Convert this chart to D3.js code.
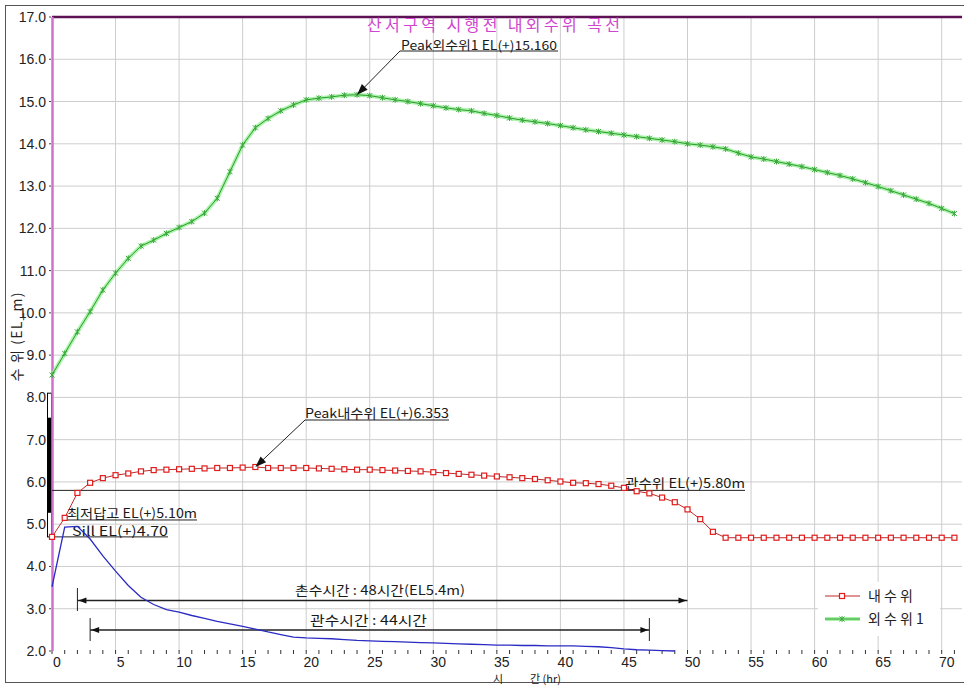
<!DOCTYPE html>
<html>
<head>
<meta charset="utf-8">
<script src="https://cdn.jsdelivr.net/npm/d3@7"></script>
<style>
  html, body { margin: 0; padding: 0; background: #fff; }
  svg { display: block; }
  text { font-family: "Noto Sans CJK KR", "Liberation Sans", sans-serif; }
</style>
</head>
<body>
<svg id="chart" width="964" height="686"></svg>
<script>
// Hourly water levels (EL m), index = hour
const innerLevel = [
  4.70, 5.15, 5.74, 5.98, 6.09, 6.16, 6.20, 6.25, 6.28, 6.29,
  6.30, 6.31, 6.32, 6.33, 6.33, 6.34, 6.353, 6.33, 6.33, 6.33,
  6.33, 6.32, 6.31, 6.30, 6.29, 6.29, 6.28, 6.27, 6.26, 6.25,
  6.23, 6.21, 6.19, 6.17, 6.15, 6.13, 6.11, 6.09, 6.07, 6.04,
  6.01, 5.98, 5.97, 5.95, 5.91, 5.86, 5.78, 5.73, 5.63, 5.52,
  5.35, 5.12, 4.82, 4.68, 4.68, 4.68, 4.68, 4.68, 4.68, 4.68,
  4.68, 4.68, 4.68, 4.68, 4.68, 4.68, 4.68, 4.68, 4.68, 4.68,
  4.68, 4.68
];
const outerLevel = [
  8.53, 9.04, 9.55, 10.03, 10.54, 10.94, 11.29, 11.58, 11.72, 11.88,
  12.02, 12.16, 12.36, 12.71, 13.34, 13.97, 14.38, 14.60, 14.78, 14.92,
  15.04, 15.08, 15.11, 15.15, 15.16, 15.14, 15.09, 15.04, 15.00, 14.95,
  14.90, 14.85, 14.81, 14.78, 14.72, 14.67, 14.61, 14.56, 14.52, 14.48,
  14.43, 14.38, 14.33, 14.29, 14.25, 14.21, 14.17, 14.13, 14.09, 14.05,
  14.00, 13.97, 13.93, 13.88, 13.78, 13.69, 13.64, 13.58, 13.52, 13.46,
  13.39, 13.32, 13.25, 13.17, 13.08, 12.99, 12.89, 12.79, 12.69, 12.59,
  12.47, 12.35
];
const drainLevel = [
  3.52, 4.93, 4.95, 4.65, 4.25, 3.89, 3.55, 3.27, 3.10, 2.98,
  2.92, 2.84, 2.77, 2.70, 2.64, 2.58, 2.52, 2.45, 2.39, 2.33,
  2.31, 2.30, 2.29, 2.27, 2.25, 2.24, 2.23, 2.22, 2.21, 2.20,
  2.19, 2.18, 2.17, 2.16, 2.15, 2.14, 2.14, 2.13, 2.13, 2.12,
  2.12, 2.12, 2.11, 2.10, 2.08, 2.05, 2.03, 2.02, 2.01, 2.00
];
const seriesNames = ["내 수 위", "외 수 위 1"];
const yTickValues = [2, 3, 4, 5, 6, 7, 8, 9, 10, 11, 12, 13, 14, 15, 16, 17];
const xTickValues = [0, 5, 10, 15, 20, 25, 30, 35, 40, 45, 50, 55, 60, 65, 70];

// reference levels and durations
const peakInner = { hour: 16, value: 6.353 };
const peakOuter = { hour: 24, value: 15.160 };
const irrigationLevel = 5.80;
const paddyLevel = 5.10;
const sillLevel = 4.70;
const floodSpan = [2, 50];
const irrigationSpan = [3, 47];
const gateBar = { top: 8.1, fillTop: 7.52, fillBottom: 5.27, bottom: 4.70 };

const svg = d3.select("#chart");
const x = d3.scaleLinear().domain([0, 70]).range([52, 941.7]);
const y = d3.scaleLinear().domain([2, 17]).range([651, 17]);
const X0 = x(0), XR = 962, YT = y(17), YB = y(2);

// outer frame
svg.append("rect").attr("x", 5.5).attr("y", 5.5).attr("width", 975).attr("height", 677)
  .attr("fill", "#fff").attr("stroke", "#555").attr("stroke-width", 1);

// grid
svg.append("g").selectAll("line").data(xTickValues.filter(d => d > 0)).join("line")
  .attr("x1", d => x(d)).attr("x2", d => x(d)).attr("y1", YT).attr("y2", YB)
  .attr("stroke", "#cdcdcd").attr("stroke-width", 1);
svg.append("g").selectAll("line").data(yTickValues.filter(d => d > 2 && d < 17)).join("line")
  .attr("x1", X0).attr("x2", XR).attr("y1", d => y(d)).attr("y2", d => y(d))
  .attr("stroke", "#cdcdcd").attr("stroke-width", 1);

// hourly minor ticks on the time axis
svg.append("g").selectAll("line").data(innerLevel.map((_, i) => i)).join("line")
  .attr("x1", d => x(d)).attr("x2", d => x(d)).attr("y1", YB - 1).attr("y2", YB + 3)
  .attr("stroke", "#333").attr("stroke-width", 1);

// tick labels
svg.append("g").selectAll("text").data(xTickValues).join("text")
  .attr("x", d => x(d) + 5).attr("y", 667).attr("text-anchor", "middle")
  .attr("font-size", 14).attr("fill", "#222")
  .style("font-family", "'Liberation Sans', sans-serif")
  .text(d => d);
svg.append("g").selectAll("text").data(yTickValues).join("text")
  .attr("x", 46).attr("y", d => y(d) + 5).attr("text-anchor", "end")
  .attr("font-size", 14).attr("fill", "#222")
  .style("font-family", "'Liberation Sans', sans-serif")
  .text(d => d.toFixed(1));
svg.append("g").selectAll("line").data(yTickValues).join("line")
  .attr("x1", 49).attr("x2", 51).attr("y1", d => y(d)).attr("y2", d => y(d))
  .attr("stroke", "#444");

// axis titles
svg.append("text").attr("transform", "translate(22,337) rotate(-90)")
  .attr("text-anchor", "middle").attr("font-size", 14).attr("fill", "#222")
  .attr("textLength", 89).attr("lengthAdjust", "spacing")
  .text("수 위 (EL_m)");
svg.append("text").attr("x", 498).attr("y", 682.5).attr("text-anchor", "middle")
  .attr("font-size", 11).attr("fill", "#222").text("시");
svg.append("text").attr("x", 530).attr("y", 682.5)
  .attr("font-size", 11).attr("fill", "#222").text("간 (hr)");

// gate bar beside the level axis
svg.append("rect").attr("x", 47.5).attr("y", y(gateBar.top)).attr("width", 4)
  .attr("height", y(gateBar.bottom) - y(gateBar.top))
  .attr("fill", "#fff").attr("stroke", "#000").attr("stroke-width", 1);
svg.append("rect").attr("x", 47.5).attr("y", y(gateBar.fillTop)).attr("width", 4)
  .attr("height", y(gateBar.fillBottom) - y(gateBar.fillTop)).attr("fill", "#000");

// frame lines of the plot
svg.append("line").attr("x1", X0).attr("x2", XR).attr("y1", YT).attr("y2", YT)
  .attr("stroke", "#5e1256").attr("stroke-width", 2.5);
svg.append("line").attr("x1", X0 + 0.5).attr("x2", X0 + 0.5).attr("y1", YT).attr("y2", YB)
  .attr("stroke", "#d070d0").attr("stroke-width", 2.5);

// title
svg.append("text").attr("x", 367).attr("y", 31).attr("font-size", 16).attr("fill", "#d044d0")
  .attr("textLength", 253).attr("lengthAdjust", "spacing")
  .text("산서구역 시행전 내외수위 곡선");

function arrowHead(g, fx, fy, tx, ty, len, half) {
  const a = Math.atan2(ty - fy, tx - fx);
  const bx = tx - len * Math.cos(a), by = ty - len * Math.sin(a);
  const px = -Math.sin(a) * half, py = Math.cos(a) * half;
  g.append("path")
    .attr("d", `M${tx},${ty}L${bx + px},${by + py}L${bx - px},${by - py}Z`)
    .attr("fill", "#111");
}

const ann = svg.append("g");
function label(txt, x0, base, len, fs) {
  ann.append("text").attr("x", x0).attr("y", base).attr("font-size", fs || 13).attr("fill", "#1a1a1a")
    .attr("textLength", len).attr("lengthAdjust", "spacingAndGlyphs").text(txt);
}
function hline(x1, x2, yy, w) {
  ann.append("line").attr("x1", x1).attr("x2", x2).attr("y1", yy).attr("y2", yy)
    .attr("stroke", "#222").attr("stroke-width", w || 1);
}
function vline(xx, y1, y2) {
  ann.append("line").attr("x1", xx).attr("x2", xx).attr("y1", y1).attr("y2", y2)
    .attr("stroke", "#222").attr("stroke-width", 1);
}

// level lines
hline(X0, 745, y(irrigationLevel));
label("관수위 EL(+)5.80m", 625, 488, 120);
hline(65, 197, y(paddyLevel));
label("최저답고 EL(+)5.10m", 67, 518, 130);
hline(X0, 168, y(sillLevel));
label("Sill EL(+)4.70", 72, 535.5, 96);

// duration arrows
const fy = 600.5, iy = 630;
hline(x(floodSpan[0]), x(floodSpan[1]), fy, 1.5);
vline(x(floodSpan[0]), 588, 611);
arrowHead(ann, x(floodSpan[0]) + 20, fy, x(floodSpan[0]) + 1, fy, 8, 3);
arrowHead(ann, x(floodSpan[1]) - 20, fy, x(floodSpan[1]) - 1, fy, 8, 3);
label("촌수시간 : 48시간(EL5.4m)", 295, 595, 170);

hline(x(irrigationSpan[0]), x(irrigationSpan[1]), iy, 1.5);
vline(x(irrigationSpan[0]), 618, 641);
vline(x(irrigationSpan[1]), 618, 641);
arrowHead(ann, x(irrigationSpan[0]) + 20, iy, x(irrigationSpan[0]) + 1, iy, 8, 3);
arrowHead(ann, x(irrigationSpan[1]) - 20, iy, x(irrigationSpan[1]) - 1, iy, 8, 3);
label("관수시간 : 44시간", 310, 625, 117);

// series
const line = d3.line().x((d, i) => x(i)).y(d => y(d));

svg.append("path").datum(drainLevel).attr("d", line)
  .attr("fill", "none").attr("stroke", "#2a2ac4").attr("stroke-width", 1.3);

const green = svg.append("g");
green.append("path").datum(outerLevel).attr("d", line)
  .attr("fill", "none").attr("stroke", "#8cf08c").attr("stroke-width", 4).attr("opacity", 0.75);
green.append("path").datum(outerLevel).attr("d", line)
  .attr("fill", "none").attr("stroke", "#2f9a2f").attr("stroke-width", 1);
green.selectAll("path.m").data(outerLevel).join("path").attr("class", "m")
  .attr("transform", (d, i) => `translate(${x(i)},${y(d)})`)
  .attr("d", "M-2.5,-2.5L2.5,2.5M-2.5,2.5L2.5,-2.5M0,-3L0,3")
  .attr("stroke", "#3aa83a").attr("stroke-width", 1).attr("fill", "none");

const red = svg.append("g");
red.append("path").datum(innerLevel).attr("d", line)
  .attr("fill", "none").attr("stroke", "#c02828").attr("stroke-width", 1);
red.selectAll("rect").data(innerLevel).join("rect")
  .attr("x", (d, i) => x(i) - 2.5).attr("y", d => y(d) - 2.5)
  .attr("width", 5).attr("height", 5)
  .attr("fill", "#fff").attr("stroke", "#e01c1c").attr("stroke-width", 1.2);

// peak callouts
const pOx = x(peakOuter.hour), pOy = y(peakOuter.value);
hline(400, 558, 51);
ann.append("line").attr("x1", 400).attr("y1", 51).attr("x2", pOx).attr("y2", pOy)
  .attr("stroke", "#222").attr("stroke-width", 1);
arrowHead(svg, 400, 51, pOx, pOy, 11, 4);
label("Peak외수위1 EL(+)15.160", 401, 49.8, 156, 12.5);

const pIx = x(peakInner.hour), pIy = y(peakInner.value);
hline(305, 449, 420);
ann.append("line").attr("x1", 305).attr("y1", 420).attr("x2", pIx).attr("y2", pIy)
  .attr("stroke", "#222").attr("stroke-width", 1);
arrowHead(svg, 305, 420, pIx, pIy, 11, 4);
label("Peak내수위 EL(+)6.353", 305, 417.5, 144);

// legend
const lg = svg.append("g");
lg.append("rect").attr("x", 818).attr("y", 582).attr("width", 122).attr("height", 54).attr("fill", "#fff");
lg.append("line").attr("x1", 825).attr("x2", 860).attr("y1", 596).attr("y2", 596)
  .attr("stroke", "#c02828").attr("stroke-width", 1);
lg.append("rect").attr("x", 839.5).attr("y", 593.5).attr("width", 5).attr("height", 5)
  .attr("fill", "#fff").attr("stroke", "#e01c1c").attr("stroke-width", 1.2);
lg.append("line").attr("x1", 825).attr("x2", 860).attr("y1", 619).attr("y2", 619)
  .attr("stroke", "#8cf08c").attr("stroke-width", 4).attr("opacity", 0.75);
lg.append("line").attr("x1", 825).attr("x2", 860).attr("y1", 619).attr("y2", 619)
  .attr("stroke", "#2f9a2f").attr("stroke-width", 1);
lg.append("path").attr("transform", "translate(842,619)")
  .attr("d", "M-2.5,-2.5L2.5,2.5M-2.5,2.5L2.5,-2.5M0,-3L0,3")
  .attr("stroke", "#3aa83a").attr("fill", "none");
lg.selectAll("text").data(seriesNames).join("text")
  .attr("x", 868).attr("y", (d, i) => 601 + i * 23)
  .attr("font-size", 14).attr("fill", "#222").text(d => d);
</script>
</body>
</html>
